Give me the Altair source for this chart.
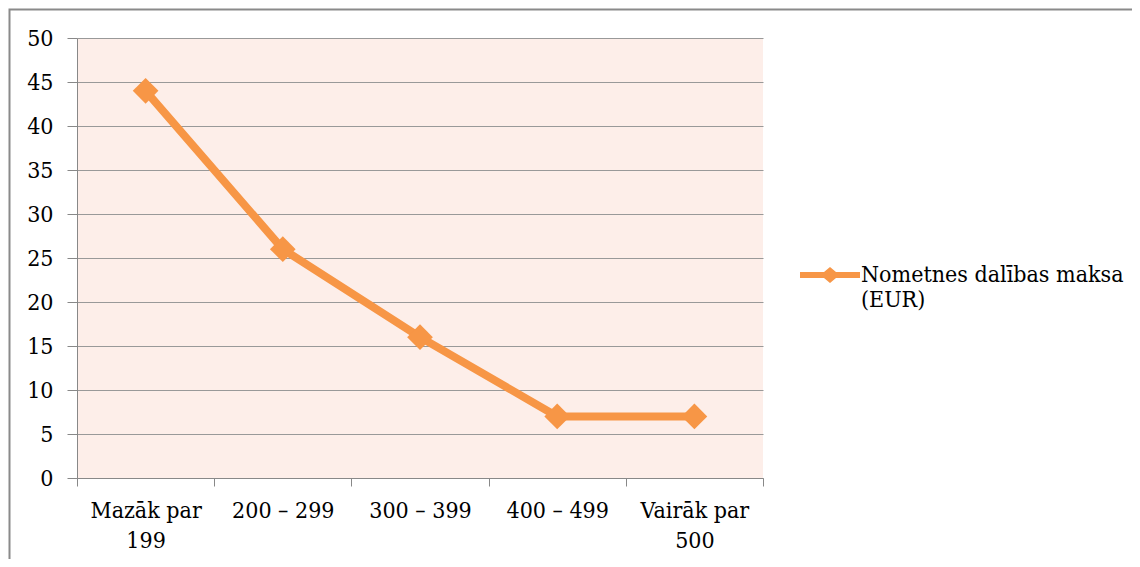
import altair as alt
import pandas as pd

categories = ["Mazāk par 199", "200 – 299", "300 – 399", "400 – 499", "Vairāk par 500"]
values = [44, 26, 16, 7, 7]
series_name = "Nometnes dalības maksa (EUR)"
y_ticks = [0, 5, 10, 15, 20, 25, 30, 35, 40, 45, 50]

df = pd.DataFrame({"cat": categories, "val": values, "series": [series_name] * len(categories)})

ORANGE = "#F79646"
FONT = "DejaVu Serif Condensed"
FS = 23

x_enc = alt.X(
    "cat:N",
    sort=None,
    title=None,
    scale=alt.Scale(paddingInner=0, paddingOuter=0),
    axis=alt.Axis(
        tickBand="extent",
        labelAngle=0,
        labelAlign="center",
        labelBaseline="top",
        labelPadding=13,
        labelLineHeight=30,
        labelFont=FONT,
        labelFontSize=FS,
        labelColor="#000000",
        labelExpr="split(replace(datum.label, 'par ', 'par|'), '|')",
        tickSize=8,
        tickColor="#888888",
        domainColor="#888888",
        grid=False,
    ),
)
y_enc = alt.Y(
    "val:Q",
    title=None,
    scale=alt.Scale(domain=[0, 50], nice=False),
    axis=alt.Axis(
        values=y_ticks,
        labelPadding=14,
        tickSize=10,
        labelFont=FONT,
        labelFontSize=FS,
        labelColor="#000000",
        tickColor="#888888",
        domainColor="#888888",
        gridColor="#999999",
        grid=True,
    ),
)

frame = alt.Chart(alt.Data(values=[{"a": 1}])).mark_rect(
    fill="transparent", stroke="#8a8a8a", strokeWidth=2
).encode(
    x=alt.value(-67.5), x2=alt.value(2000), y=alt.value(-28.5), y2=alt.value(2000)
)

base = alt.Chart(df)
line = base.mark_line(color=ORANGE, strokeWidth=8).encode(x=x_enc, y=y_enc)

legend_path = (
    "M-1,-0.1 L-0.2,-0.1 L0,-0.27 L0.2,-0.1 L1,-0.1 L1,0.1 L0.2,0.1 "
    "L0,0.27 L-0.2,0.1 L-1,0.1 Z"
)

points = base.mark_point(shape="diamond", filled=True, size=660, opacity=1).encode(
    x=x_enc,
    y=y_enc,
    color=alt.Color(
        "series:N",
        scale=alt.Scale(range=[ORANGE]),
        legend=alt.Legend(
            title=None,
            orient="none",
            legendX=723,
            legendY=207,
            symbolType=legend_path,
            symbolSize=3600,
            symbolStrokeWidth=0,
            labelFont=FONT,
            labelFontSize=FS,
            labelColor="#000000",
            labelLimit=500,
            labelOffset=1,
            labelBaseline="middle",
            labelExpr="['Nometnes dalības maksa', '(EUR)']",
        ),
    ),
)

chart = (
    alt.layer(frame, line, points)
    .properties(
        width=686,
        height=440,
        autosize=alt.AutoSizeParams(type="none"),
        padding={"left": 69, "top": 30, "right": 369, "bottom": 81},
        background="#ffffff",
    )
    .configure_view(fill="#FDEEE9", strokeWidth=0)
)

chart.save("out.html", embed_options={"renderer": "svg", "actions": False})
